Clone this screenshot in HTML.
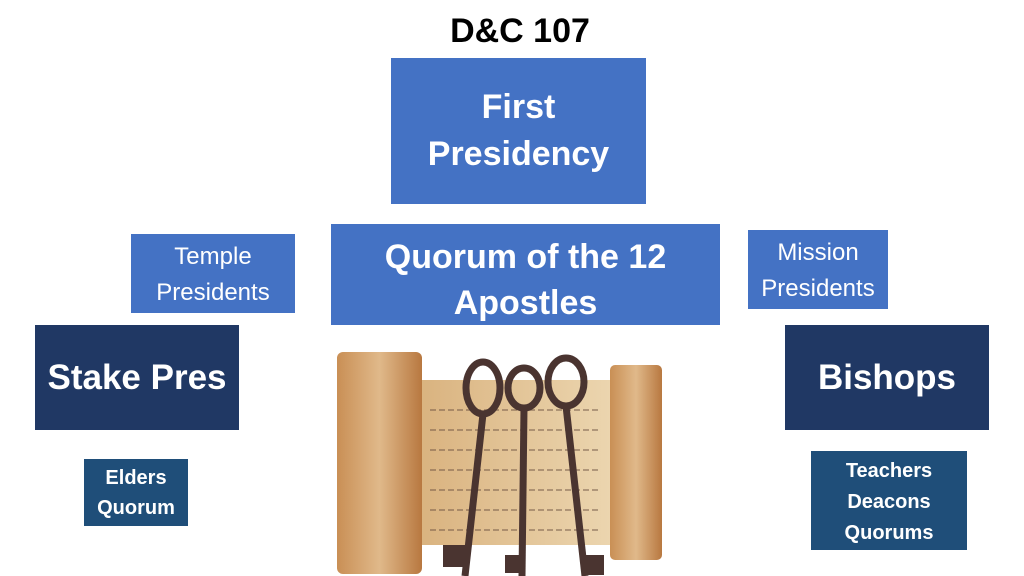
<!DOCTYPE html>
<html><head><style>
body{margin:0;width:1024px;height:576px;background:#fff;position:relative;overflow:hidden;font-family:"Liberation Sans",Arial,sans-serif}
.b{position:absolute;display:flex;align-items:center;justify-content:center;text-align:center;color:#fff;box-sizing:border-box}
.l{background:#4472C4}
.d{background:#203864;font-weight:bold}
.m{background:#1F4E79;font-weight:bold}
</style></head><body>
<div style="position:absolute;left:0;width:1040px;top:12px;text-align:center;font-weight:bold;font-size:34px;color:#000">D&amp;C 107</div>
<div class="b l" style="left:391px;top:58px;width:255px;height:146px;font-size:34px;font-weight:bold;line-height:47px">First<br>Presidency</div>
<div class="b l" style="left:331px;top:224px;width:389px;height:101px;font-size:34px;font-weight:bold;line-height:46px;padding-top:10px">Quorum of the 12<br>Apostles</div>
<div class="b l" style="left:131px;top:234px;width:164px;height:79px;font-size:24px;line-height:36px;padding-top:3px">Temple<br>Presidents</div>
<div class="b l" style="left:748px;top:230px;width:140px;height:79px;font-size:24px;line-height:36px;padding-top:3px">Mission<br>Presidents</div>
<div class="b d" style="left:35px;top:325px;width:204px;height:105px;font-size:35px">Stake Pres</div>
<div class="b d" style="left:785px;top:325px;width:204px;height:105px;font-size:35px">Bishops</div>
<div class="b m" style="left:84px;top:459px;width:104px;height:67px;font-size:20px;line-height:30px">Elders<br>Quorum</div>
<div class="b m" style="left:811px;top:451px;width:156px;height:99px;font-size:20px;line-height:31px;padding-top:3px">Teachers<br>Deacons<br>Quorums</div>
<svg style="position:absolute;left:330px;top:330px" width="340" height="246">
<defs><linearGradient id="g" x1="0" x2="1"><stop offset="0" stop-color="#c98f55"/><stop offset=".5" stop-color="#e0b98a"/><stop offset="1" stop-color="#b87840"/></linearGradient>
<linearGradient id="p" x1="0" x2="1"><stop offset="0" stop-color="#d9b27e"/><stop offset="1" stop-color="#ecd6b0"/></linearGradient></defs>
<rect x="85" y="50" width="200" height="165" fill="url(#p)"/>
<rect x="7" y="22" width="85" height="222" rx="6" fill="url(#g)"/>
<rect x="280" y="35" width="52" height="195" rx="5" fill="url(#g)"/>
<g stroke="#6b5040" stroke-width="1.5" opacity=".6" stroke-dasharray="6 3">
<line x1="100" y1="80" x2="270" y2="80"/><line x1="100" y1="100" x2="270" y2="100"/><line x1="100" y1="120" x2="270" y2="120"/><line x1="100" y1="140" x2="270" y2="140"/><line x1="100" y1="160" x2="270" y2="160"/><line x1="100" y1="180" x2="270" y2="180"/><line x1="100" y1="200" x2="270" y2="200"/></g>
<g fill="none" stroke="#4a3430" stroke-width="7">
<ellipse cx="153" cy="58" rx="17" ry="26"/><line x1="153" y1="84" x2="135" y2="246"/>
<ellipse cx="194" cy="58" rx="16" ry="20"/><line x1="194" y1="78" x2="192" y2="246"/>
<ellipse cx="236" cy="52" rx="18" ry="24"/><line x1="236" y1="76" x2="255" y2="246"/>
</g>
<g fill="#4a3430"><rect x="113" y="215" width="22" height="22"/><rect x="175" y="225" width="18" height="18"/><rect x="252" y="225" width="22" height="20"/></g>
</svg>
</body></html>
